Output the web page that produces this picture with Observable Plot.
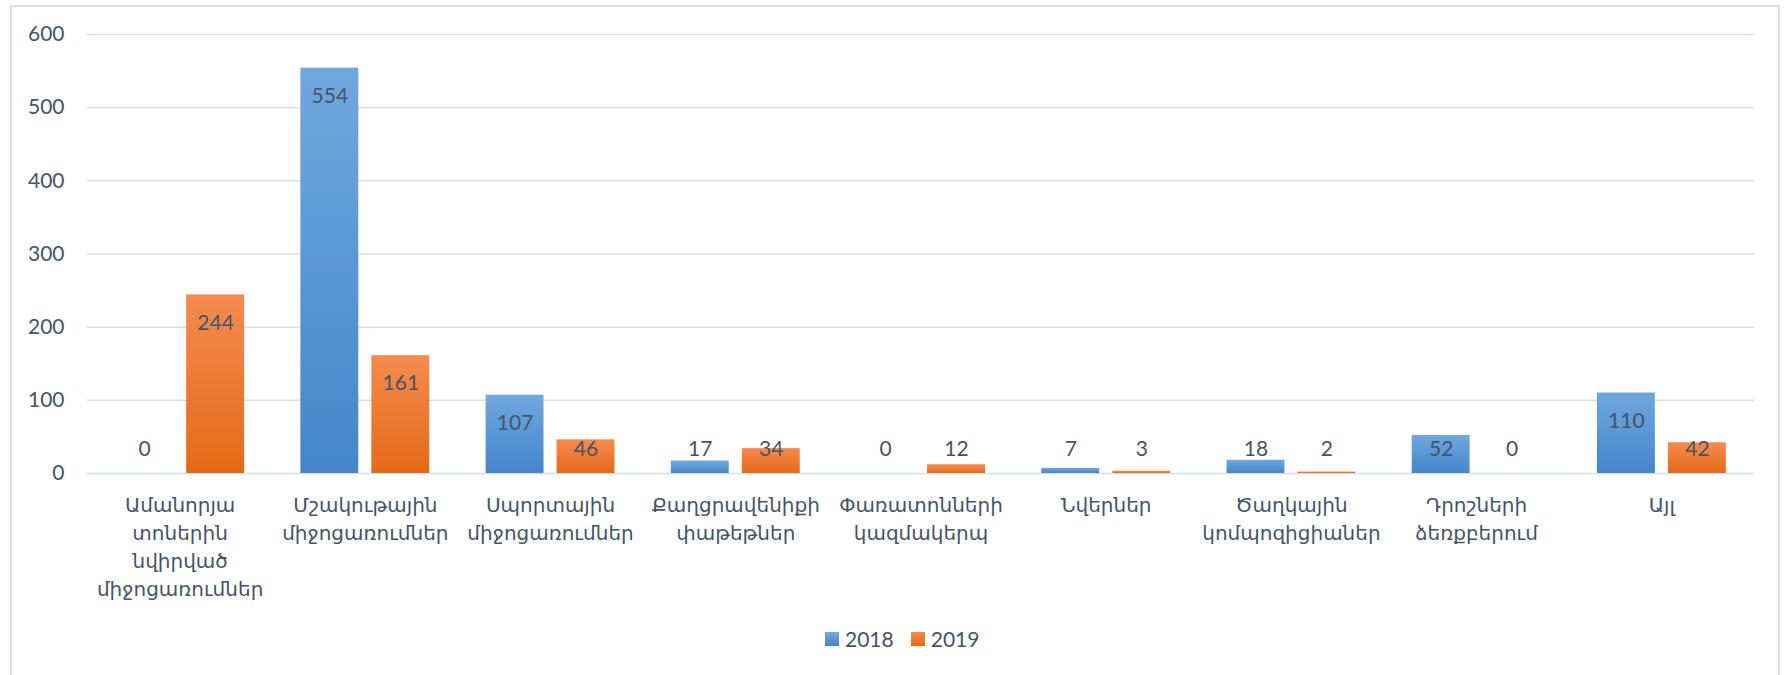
<!DOCTYPE html>
<html>
<head>
<meta charset="utf-8">
<script src="https://cdn.jsdelivr.net/npm/d3@7"></script>
<script src="https://cdn.jsdelivr.net/npm/@observablehq/plot@0.6"></script>
<style>
  html, body { margin: 0; padding: 0; background: #fff; }
  #wrap { position: relative; width: 1784px; height: 675px; overflow: hidden; background: #fff; }
  #frame { position: absolute; left: 10px; top: 5px; width: 1770px; height: 700px; border: 2px solid #DCE0E6; box-sizing: border-box; }
  #chart { position: absolute; left: 0; top: 0; }
  #legend { position: absolute; left: 825px; top: 626px; display: flex; align-items: center; font-family: Lato, "DejaVu Sans", sans-serif; font-size: 21px; color: #44546A; }
  .item { display: flex; align-items: center; margin-right: 17px; }
  .sw { width: 14px; height: 14px; margin-right: 6px; }
</style>
</head>
<body>
<div id="wrap">
  <div id="frame"></div>
  <div id="chart"></div>
  <div id="legend"></div>
</div>
<script>
const categories = [
  "Ամանորյա\nտոներին\nնվիրված\nմիջոցառումներ",
  "Մշակութային\nմիջոցառումներ",
  "Սպորտային\nմիջոցառումներ",
  "Քաղցրավենիքի\nփաթեթներ",
  "Փառատոնների\nկազմակերպ",
  "Նվերներ",
  "Ծաղկային\nկոմպոզիցիաներ",
  "Դրոշների\nձեռքբերում",
  "Այլ"
];
const series = ["2018", "2019"];
const values2018 = [0, 554, 107, 17, 0, 7, 18, 52, 110];
const values2019 = [244, 161, 46, 34, 12, 3, 2, 0, 42];
const yTicks = [0, 100, 200, 300, 400, 500, 600];

const rows2018 = categories.map((c, i) => ({category: c, series: "2018", value: values2018[i]}));
const rows2019 = categories.map((c, i) => ({category: c, series: "2019", value: values2019[i]}));

const textColor = "#44546A";
const minLabel = 71.5;

const chart = Plot.plot({
  width: 1784,
  height: 612,
  marginLeft: 87,
  marginRight: 30,
  marginTop: 34,
  marginBottom: 139,
  style: {fontFamily: 'Lato, "DejaVu Sans", sans-serif', color: textColor, background: "transparent", overflow: "visible"},
  x: {domain: categories, paddingInner: 0.304, paddingOuter: 0.152, round: false, label: null},
  y: {domain: [0, 600], label: null},
  marks: [
    Plot.gridY(yTicks, {stroke: "#D9DEE5", strokeOpacity: 1, strokeWidth: 1.5}),
    Plot.barY(rows2018, {x: "category", y: "value", fill: "url(#g2018)", insetRight: 71}),
    Plot.barY(rows2019, {x: "category", y: "value", fill: "url(#g2019)", insetLeft: 71}),
    Plot.text(rows2018, {x: "category", y: d => Math.max(d.value, minLabel), dy: 28, dx: -35.5, text: d => String(d.value), fill: textColor, fontSize: 21}),
    Plot.text(rows2019, {x: "category", y: d => Math.max(d.value, minLabel), dy: 28, dx: 35.5, text: d => String(d.value), fill: textColor, fontSize: 21}),
    Plot.axisY({ticks: yTicks, tickSize: 0, tickPadding: 23, fontSize: 21, label: null}),
    Plot.axisX({tickSize: 0, tickPadding: 18, fontSize: 20, lineHeight: 1.41, label: null, fontFamily: '"DejaVu Sans", sans-serif'})
  ]
});

const ns = "http://www.w3.org/2000/svg";
const defs = document.createElementNS(ns, "defs");
const grads = {g2018: ["#70A8DE", "#4386CB"], g2019: ["#F58B4E", "#E46A17"]};
for (const [id, [c0, c1]] of Object.entries(grads)) {
  const g = document.createElementNS(ns, "linearGradient");
  g.setAttribute("id", id);
  g.setAttribute("x1", "0"); g.setAttribute("y1", "0");
  g.setAttribute("x2", "0"); g.setAttribute("y2", "1");
  const s0 = document.createElementNS(ns, "stop");
  s0.setAttribute("offset", "0"); s0.setAttribute("stop-color", c0);
  const s1 = document.createElementNS(ns, "stop");
  s1.setAttribute("offset", "1"); s1.setAttribute("stop-color", c1);
  g.appendChild(s0); g.appendChild(s1);
  defs.appendChild(g);
}
chart.insertBefore(defs, chart.firstChild);
document.getElementById("chart").appendChild(chart);

const legend = document.getElementById("legend");
series.forEach(s => {
  const item = document.createElement("div");
  item.className = "item";
  const sw = document.createElement("div");
  sw.className = "sw";
  const [c0, c1] = grads["g" + s];
  sw.style.background = `linear-gradient(${c0}, ${c1})`;
  const t = document.createElement("span");
  t.textContent = s;
  item.appendChild(sw); item.appendChild(t);
  legend.appendChild(item);
});
</script>
</body>
</html>
